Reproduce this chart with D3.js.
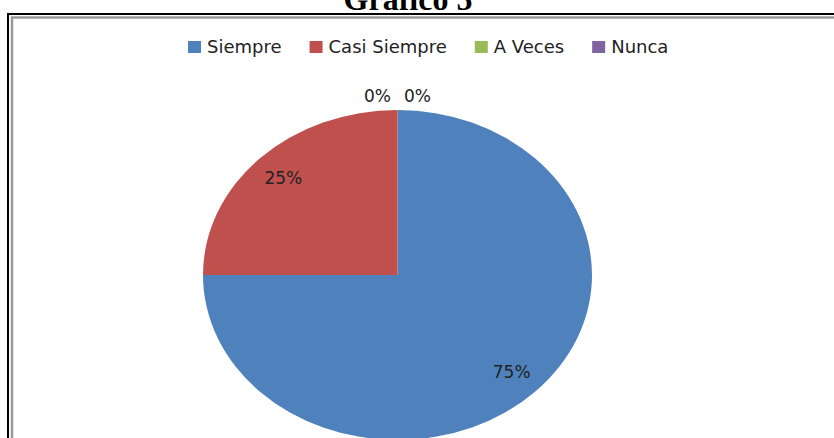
<!DOCTYPE html>
<html>
<head>
<meta charset="utf-8">
<script src="https://cdn.jsdelivr.net/npm/d3@7"></script>
<style>
  html, body { margin: 0; padding: 0; background: #fff; }
  svg { display: block; }
</style>
</head>
<body>
<div id="chart"></div>
<script>
// Données du graphique
const categories = ['Siempre', 'Casi Siempre', 'A Veces', 'Nunca'];
const percentages = [75, 25, 0, 0];
const colors = ['#4F81BD', '#C0504D', '#9BBB59', '#8064A2'];
const title = 'Gráfico 5';

const W = 834, H = 438;
const svg = d3.select('#chart').append('svg')
    .attr('width', W)
    .attr('height', H);

// Titre (coupé en haut comme dans l'original)
svg.append('text')
    .attr('x', 408)
    .attr('y', 10)
    .attr('text-anchor', 'middle')
    .style('font-family', '"Liberation Serif", "Times New Roman", serif')
    .style('font-weight', '700')
    .style('font-size', '32px')
    .style('fill', '#000')
    .text(title);

// Double cadre
svg.append('rect')
    .attr('x', 8).attr('y', 14)
    .attr('width', 900).attr('height', 600)
    .attr('fill', 'none')
    .attr('stroke', '#000')
    .attr('stroke-width', 2);

svg.append('rect')
    .attr('x', 12).attr('y', 17.5)
    .attr('width', 900).attr('height', 600)
    .attr('fill', 'none')
    .attr('stroke', '#9a9a9a')
    .attr('stroke-width', 2.5);

// Légende
const legend = svg.append('g').attr('class', 'legend');
const font = '"DejaVu Sans", sans-serif';
let lx = 188;
categories.forEach((c, i) => {
    const item = legend.append('g').attr('transform', `translate(${lx}, 41)`);
    item.append('rect')
        .attr('width', 13).attr('height', 12)
        .attr('fill', colors[i]);
    const t = item.append('text')
        .attr('x', 19)
        .attr('y', 12)
        .style('font-family', font)
        .style('font-size', '18px')
        .style('fill', '#222')
        .text(c);
    lx += 19 + t.node().getComputedTextLength() + 28;
});

// Camembert (ellipse : rayon horizontal > rayon vertical)
const cx = 397.5, cy = 275, rx = 194.5, ry = 165;

const pie = d3.pie().sort(null).value(d => d)(percentages);
const arc = d3.arc().innerRadius(0).outerRadius(ry);

const g = svg.append('g')
    .attr('transform', `translate(${cx},${cy}) scale(${rx / ry},1)`);

g.selectAll('path')
    .data(pie)
    .join('path')
    .attr('d', arc)
    .attr('fill', (d, i) => colors[i]);

// Étiquettes de pourcentage
const labelArc = d3.arc().innerRadius(ry * 0.82 * 2).outerRadius(0);
let zeroIdx = 0;
pie.forEach((d, i) => {
    let x, y;
    if (d.value > 0) {
        const a = (d.startAngle + d.endAngle) / 2;
        x = cx + Math.sin(a) * rx * 0.83;
        y = cy - Math.cos(a) * ry * 0.83;
    } else {
        // tranches à 0 % : placées au-dessus, côte à côte
        const a = d.startAngle;
        x = cx + Math.sin(a) * rx - 20 + zeroIdx * 40;
        y = cy - Math.cos(a) * ry * 1.085;
        zeroIdx++;
    }
    svg.append('text')
        .attr('x', x)
        .attr('y', y)
        .attr('text-anchor', 'middle')
        .attr('dominant-baseline', 'central')
        .style('font-family', font)
        .style('font-size', '17px')
        .style('fill', '#222')
        .text(`${percentages[i]}%`);
});
</script>
</body>
</html>
